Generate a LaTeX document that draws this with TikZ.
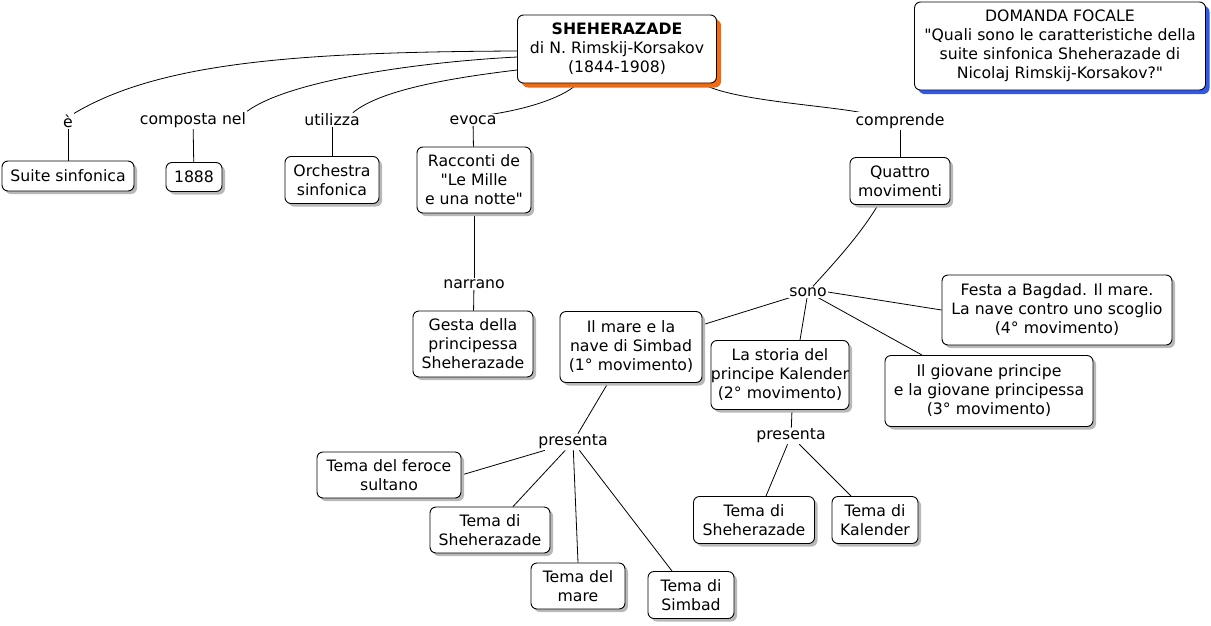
\documentclass[tikz,border=0pt]{standalone}
\usepackage{fontspec}
\setmainfont{DejaVu Sans}[Ligatures=TeXOff]
\usetikzlibrary{shadows,backgrounds}
\newcommand\cmfont{\fontsize{15.7}{19}\selectfont}
\definecolor{orsh}{HTML}{F26A10}
\definecolor{blsh}{HTML}{3158E6}
\begin{document}
\begin{tikzpicture}[x=1pt,y=-1pt,
  box/.style={draw, line width=0.9pt, rounded corners=6pt, fill=white, align=center, inner sep=0pt, font=\cmfont,
    drop shadow={shadow xshift=3pt, shadow yshift=-3pt, fill=black!28, opacity=1}},
  lbl/.style={fill=white, inner sep=1pt, font=\cmfont},
  conn/.style={draw, line width=0.8pt}]
\useasboundingbox (0,0) rectangle (1211,625);
% main
\node[box, minimum width=199pt, minimum height=68pt,
  drop shadow={shadow xshift=4.5pt, shadow yshift=-4.5pt, fill=orsh, opacity=1}] (top) at (617,49)
  {\textbf{SHEHERAZADE}\\di N. Rimskij-Korsakov\\(1844-1908)};
\node[box, minimum width=291pt, minimum height=88pt,
  drop shadow={shadow xshift=4pt, shadow yshift=-4pt, fill=blsh, opacity=1}] (focal) at (1060,46)
  {DOMANDA FOCALE\\"Quali sono le caratteristiche della\\suite sinfonica Sheherazade di\\Nicolaj Rimskij-Korsakov?"};
% first level
\node[box, minimum width=132pt, minimum height=30pt] (suite) at (68,176) {Suite sinfonica};
\node[box, minimum width=56pt, minimum height=29pt] (anno) at (194,177) {1888};
\node[box, minimum width=94pt, minimum height=47pt] (orch) at (332,180) {Orchestra\\sinfonica};
\node[box, minimum width=114pt, minimum height=66pt] (racc) at (474,180) {Racconti de\\"Le Mille\\e una notte"};
\node[box, minimum width=100pt, minimum height=47pt] (quat) at (900,181) {Quattro\\movimenti};
\node[box, minimum width=120pt, minimum height=66pt] (gesta) at (473,344) {Gesta della\\principessa\\Sheherazade};
\node[box, minimum width=142pt, minimum height=71pt] (mov1) at (631,347) {Il mare e la\\nave di Simbad\\(1° movimento)};
\node[box, minimum width=134pt, minimum height=69pt] (mov2) at (780,375) {La storia del\\principe Kalender\\(2° movimento)};
\node[box, minimum width=230pt, minimum height=70pt] (mov4) at (1057,310) {Festa a Bagdad. Il mare.\\La nave contro uno scoglio\\(4° movimento)};
\node[box, minimum width=208pt, minimum height=71pt] (mov3) at (989,391) {Il giovane principe\\e la giovane principessa\\(3° movimento)};
\node[box, minimum width=144pt, minimum height=46pt] (sult) at (389,475) {Tema del feroce\\sultano};
\node[box, minimum width=120pt, minimum height=46pt] (sheA) at (490,530) {Tema di\\Sheherazade};
\node[box, minimum width=94pt, minimum height=46pt] (mare) at (578,586) {Tema del\\mare};
\node[box, minimum width=86pt, minimum height=47pt] (simb) at (691,595) {Tema di\\Simbad};
\node[box, minimum width=121pt, minimum height=47pt] (sheB) at (754,520) {Tema di\\Sheherazade};
\node[box, minimum width=86pt, minimum height=47pt] (kal) at (875,520) {Tema di\\Kalender};
% labels
\node[lbl] (le) at (68,121) {è};
\node[lbl] (lc) at (193,120) {composta nel};
\node[lbl] (lu) at (332,120) {utilizza};
\node[lbl] (lev) at (473,120) {evoca};
\node[lbl] (lcom) at (900,121) {comprende};
\node[lbl] (lnar) at (474,284) {narrano};
\node[lbl] (lsono) at (808,292) {sono};
\node[lbl] (lpA) at (573,442) {presenta};
\node[lbl] (lpB) at (791,436) {presenta};
% connectors
\begin{scope}[on background layer]
\draw[conn] ([yshift=-2pt]top.west) .. controls (300,52) and (160,62) .. (le.north east);
\draw[conn] ([yshift=-8pt]top.west) .. controls (420,62) and (290,80) .. (lc.north east);
\draw[conn] ([yshift=-21pt]top.west) .. controls (450,78) and (380,90) .. ([xshift=-8pt]lu.north east);
\draw[conn] ([xshift=-39pt]top.south) .. controls (560,100) and (520,110) .. ([xshift=-6pt]lev.north east);
\draw[conn] ([xshift=85pt]top.south) .. controls (730,100) and (820,105) .. ([xshift=5pt]lcom.north west);
\draw[conn] (le) -- (suite);
\draw[conn] (lc) -- (anno);
\draw[conn] (lu) -- (orch);
\draw[conn] (lev) -- (racc);
\draw[conn] (lcom) -- (quat);
\draw[conn] (racc) -- (lnar);
\draw[conn] (lnar) -- (gesta);
\draw[conn] ([xshift=-22pt]quat.south) .. controls (860,235) and (835,262) .. ([xshift=5pt]lsono.north);
\draw[conn] (lsono) -- (mov1);
\draw[conn] (lsono) -- ([xshift=20pt]mov2.north);
\draw[conn] (lsono.east) -- (mov4.west);
\draw[conn] (lsono) -- ([xshift=-67pt]mov3.north);
\draw[conn] ([xshift=-23pt]mov1.south) -- (lpA);
\draw[conn] (lpA) -- (sult.east);
\draw[conn] (lpA) -- ([xshift=23pt]sheA.north);
\draw[conn] (lpA) -- (mare.north);
\draw[conn] (lpA) -- ([xshift=-19pt]simb.north);
\draw[conn] ([xshift=12pt]mov2.south) -- (lpB);
\draw[conn] (lpB) -- ([xshift=12pt]sheB.north);
\draw[conn] (lpB) -- ([xshift=-24pt]kal.north);
\end{scope}
\end{tikzpicture}
\end{document}
